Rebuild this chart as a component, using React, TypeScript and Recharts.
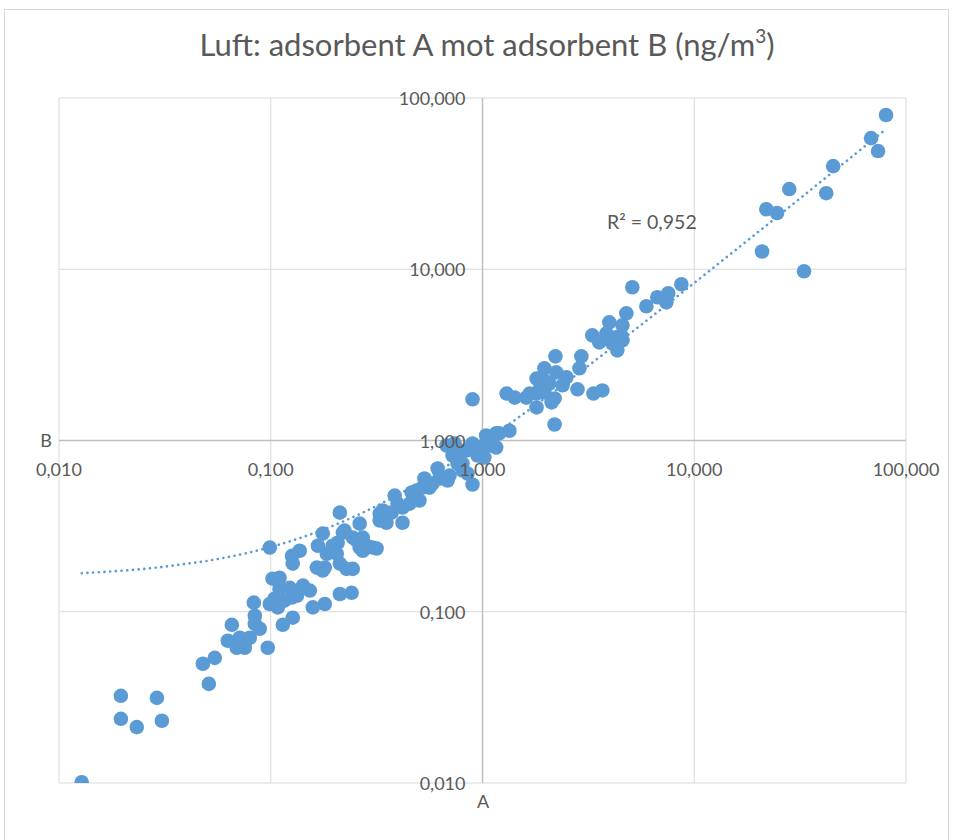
import React from 'react';
import { ScatterChart, Scatter, XAxis, YAxis, CartesianGrid, ReferenceLine } from 'recharts';

// A (x) and B (y) concentrations, ng/m3
const highConcentration: [number, number][] = [
  [80.5, 79.6], [68.4, 58.3], [73.8, 49.0], [45.3, 40.0], [42.0, 27.8], [28.1, 29.4], [21.9, 22.4],
  [24.6, 21.3], [20.9, 12.7], [33.0, 9.73],
  [8.69, 8.17], [5.10, 7.85], [7.54, 7.24], [6.69, 6.86], [7.38, 6.41], [5.94, 6.08], [4.78, 5.53],
  [3.97, 4.90], [4.58, 4.71], [3.30, 4.11], [3.85, 4.22], [4.52, 4.11], [3.56, 3.74], [4.10, 3.69],
  [4.33, 3.36], [4.58, 3.84], [4.29, 4.00], [3.68, 1.96], [3.34, 1.88], [2.81, 1.99],
  [2.93, 3.10], [2.21, 3.10], [2.87, 2.64], [1.96, 2.64], [1.80, 2.30], [2.23, 2.50], [2.49, 2.34],
  [2.07, 2.15], [1.30, 1.88], [1.42, 1.78], [1.61, 1.78], [1.80, 1.88], [1.96, 1.91], [2.19, 1.76],
  [1.80, 1.56], [2.12, 1.67], [2.19, 1.24], [1.34, 1.14], [1.16, 1.10], [1.96, 2.24], [2.39, 2.10],
  [1.67, 1.88], [1.88, 2.07],
];

const midConcentration: [number, number][] = [
  [0.897, 1.74], [1.20, 1.10], [1.04, 1.07], [1.10, 0.935], [1.16, 0.910], [1.02, 0.796], [0.897, 0.960],
  [0.841, 0.874], [0.722, 0.817], [0.762, 0.733], [0.614, 0.686], [0.699, 0.624], [0.805, 0.668],
  [0.897, 0.553], [0.532, 0.600], [0.521, 0.531], [0.676, 0.935], [0.738, 0.960], [0.779, 0.874],
  [0.947, 0.817], [1.01, 0.935], [0.850, 0.641], [0.805, 0.733], [0.684, 0.584], [0.562, 0.531],
  [0.488, 0.510], [0.504, 0.446], [0.453, 0.428], [0.385, 0.477], [0.419, 0.406], [0.338, 0.390],
  [0.372, 0.379], [0.327, 0.341], [0.352, 0.331], [0.419, 0.331], [0.581, 0.561], [0.397, 0.428],
  [0.463, 0.497], [0.627, 0.600], [0.327, 0.374],
];

const lowMidConcentration: [number, number][] = [
  [0.212, 0.379], [0.263, 0.327], [0.223, 0.298], [0.272, 0.271], [0.255, 0.260], [0.303, 0.237],
  [0.207, 0.253], [0.205, 0.218], [0.272, 0.227], [0.219, 0.290], [0.176, 0.286], [0.244, 0.271],
  [0.284, 0.243], [0.316, 0.234], [0.167, 0.243], [0.196, 0.243], [0.263, 0.237], [0.137, 0.227],
  [0.126, 0.212], [0.099, 0.237], [0.184, 0.218], [0.212, 0.191], [0.228, 0.178], [0.180, 0.181],
  [0.165, 0.181], [0.127, 0.191], [0.176, 0.174], [0.244, 0.178], [0.102, 0.156], [0.110, 0.158],
  [0.123, 0.138], [0.142, 0.142], [0.153, 0.133], [0.110, 0.136], [0.133, 0.124], [0.104, 0.119],
  [0.099, 0.111], [0.108, 0.106], [0.116, 0.116], [0.126, 0.121], [0.212, 0.127], [0.241, 0.129],
  [0.158, 0.106], [0.180, 0.111], [0.127, 0.0923], [0.114, 0.0839],
];

const lowConcentration: [number, number][] = [
  [0.0832, 0.113], [0.0841, 0.0948], [0.0841, 0.0851], [0.0887, 0.0796], [0.0655, 0.0839],
  [0.0627, 0.0677], [0.0714, 0.0705], [0.0796, 0.0705], [0.0691, 0.0616], [0.0754, 0.0616],
  [0.0968, 0.0616], [0.0544, 0.0538], [0.0478, 0.0497], [0.0510, 0.0379], [0.0196, 0.0323],
  [0.0290, 0.0314], [0.0196, 0.0237], [0.0233, 0.0212], [0.0306, 0.0231], [0.0128, 0.0101],
];

const tickValues = [0.01, 0.1, 1, 10, 100];
const titleText = 'Luft: adsorbent A mot adsorbent B (ng/m';
const r2Text = 'R² = 0,952';

const BLUE = '#5b9bd5';
const TEXT = '#595959';
const FONT = 'Lato, "Open Sans", sans-serif';

const W = 954;
const H = 840;
// plot area: x 59..906, y 98..783
const PLOT = { left: 59, top: 98, right: 906, bottom: 783 };
const X_AXIS_H = 30;
const Y_AXIS_W = 40;
const M = { top: PLOT.top, right: W - PLOT.right, bottom: H - PLOT.bottom - X_AXIS_H, left: PLOT.left - Y_AXIS_W };
const CX = (PLOT.left + PLOT.right) / 2;
const CY = (PLOT.top + PLOT.bottom) / 2;

const points = [...highConcentration, ...midConcentration, ...lowMidConcentration, ...lowConcentration].map(
  ([a, b]) => ({ a, b })
);

// least-squares linear trendline fitted from the points
const n = points.length;
const meanA = points.reduce((s, p) => s + p.a, 0) / n;
const meanB = points.reduce((s, p) => s + p.b, 0) / n;
const sxy = points.reduce((s, p) => s + (p.a - meanA) * (p.b - meanB), 0);
const sxx = points.reduce((s, p) => s + (p.a - meanA) * (p.a - meanA), 0);
const slope = sxy / sxx;
const intercept = meanB - slope * meanA;
const trend = [...points]
  .sort((p, q) => p.a - q.a)
  .map((p) => ({ a: p.a, b: slope * p.a + intercept }));

const fmt = (v: number) => v.toFixed(3).replace('.', ',');

const XTick = (props: any) => {
  const { x, payload } = props;
  return (
    <text x={x} y={CY + 28} textAnchor="middle" dominantBaseline="central" fill={TEXT} fontSize={18} fontFamily={FONT}>
      {fmt(payload.value)}
    </text>
  );
};

const YTick = (props: any) => {
  const { y, payload } = props;
  return (
    <text x={CX - 17} y={y} textAnchor="end" dominantBaseline="central" fill={TEXT} fontSize={18} fontFamily={FONT}>
      {fmt(payload.value)}
    </text>
  );
};

export default function App() {
  return (
    <div style={{ position: 'absolute', left: 0, top: 0, width: W, height: H, background: '#fff', overflow: 'hidden' }}>
      <div style={{ position: 'absolute', left: 4, top: 9, width: 945, height: 840, border: '1px solid #d9d9d9', boxSizing: 'border-box' }} />
      <div style={{ position: 'absolute', left: 0, top: 0 }}>
        <ScatterChart width={W} height={H} margin={M}>
          <CartesianGrid stroke="#d9d9d9" strokeWidth={1} />
          <XAxis
            type="number"
            dataKey="a"
            scale="log"
            domain={[0.01, 100]}
            ticks={tickValues}
            interval={0}
            allowDataOverflow
            axisLine={false}
            tickLine={false}
            height={X_AXIS_H}
            tick={(p: any) => <XTick {...p} />}
          />
          <YAxis
            type="number"
            dataKey="b"
            scale="log"
            domain={[0.01, 100]}
            ticks={tickValues}
            interval={0}
            allowDataOverflow
            axisLine={false}
            tickLine={false}
            width={Y_AXIS_W}
            tick={(p: any) => <YTick {...p} />}
          />
          <ReferenceLine x={1} stroke="#bfbfbf" strokeWidth={1.5} />
          <ReferenceLine y={1} stroke="#bfbfbf" strokeWidth={1.5} />
          <Scatter
            data={points}
            isAnimationActive={false}
            shape={(p: any) => <circle cx={p.cx} cy={p.cy} r={7.3} fill={BLUE} />}
          />
          <Scatter
            data={trend}
            isAnimationActive={false}
            line={{ stroke: BLUE, strokeWidth: 2.6, strokeDasharray: '0.1 5.6', strokeLinecap: 'round' } as any}
            shape={() => <g />}
          />
        </ScatterChart>
      </div>
      <div style={{ position: 'absolute', left: 10, top: 21, width: W, textAlign: 'center', fontFamily: FONT, fontSize: 31, color: TEXT, lineHeight: '46px' }}>
        {titleText}
        <span style={{ fontSize: 19, verticalAlign: 'top', lineHeight: '30px' }}>3</span>)
      </div>
      <div style={{ position: 'absolute', left: 607, top: 210, fontFamily: FONT, fontSize: 19.5, color: TEXT, lineHeight: '24px', whiteSpace: 'nowrap' }}>
        {r2Text}
      </div>
      <div style={{ position: 'absolute', left: 36, top: 429, width: 20, textAlign: 'center', fontFamily: FONT, fontSize: 18, color: TEXT, lineHeight: '22px' }}>
        B
      </div>
      <div style={{ position: 'absolute', left: 473, top: 790, width: 20, textAlign: 'center', fontFamily: FONT, fontSize: 18, color: TEXT, lineHeight: '22px' }}>
        A
      </div>
    </div>
  );
}
